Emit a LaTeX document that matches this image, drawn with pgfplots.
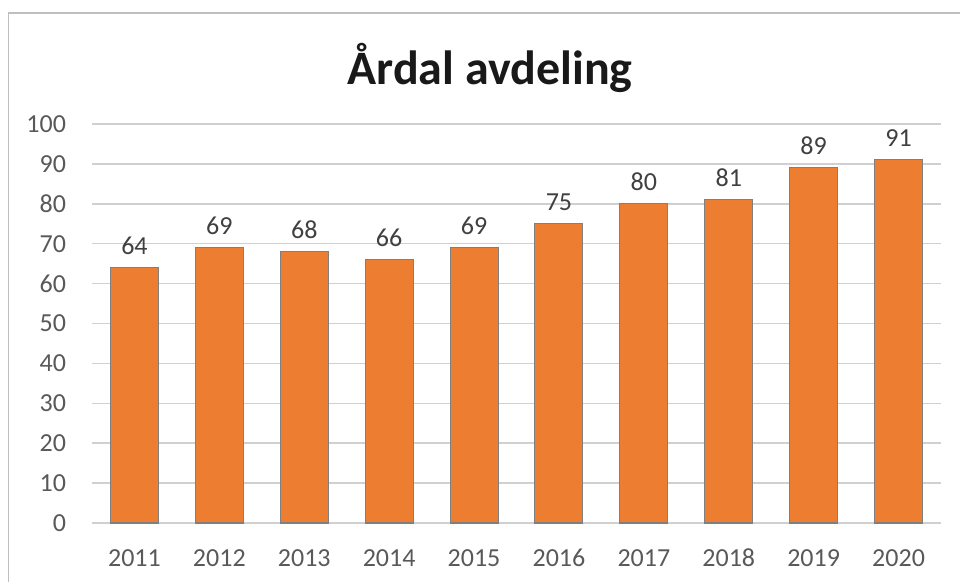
\documentclass[border=0pt]{standalone}
\usepackage{fontspec}
\setmainfont{Carlito}
\usepackage{pgfplots}
\pgfplotsset{compat=1.18}
\definecolor{barfill}{HTML}{ED7D31}
\definecolor{baredge}{HTML}{7F7F7F}
\definecolor{gridc}{HTML}{D0D0D0}
\definecolor{framec}{HTML}{BFBFBF}
\definecolor{labc}{HTML}{595959}
\definecolor{valc}{HTML}{404040}
\begin{document}
\begin{tikzpicture}
\useasboundingbox (0,0) rectangle (720pt,436.5pt);
\draw[color=framec, line width=1.1pt] (6.4pt,0) -- (6.4pt,426.75pt) -- (720pt,426.75pt);
\node[font=\fontsize{36}{40}\selectfont\bfseries, text=black!90] at (367.5pt,385.5pt) {Årdal avdeling};
\begin{axis}[
  at={(69pt,44.25pt)}, anchor=south west,
  scale only axis, width=636.75pt, height=299.25pt,
  xmin=-0.5, xmax=9.5, ymin=0, ymax=100,
  ybar, bar width=36pt,
  axis line style={draw=none},
  major tick length=0pt,
  ytick={0,10,...,100},
  xtick={0,...,9},
  xticklabels={2011,2012,2013,2014,2015,2016,2017,2018,2019,2020},
  ymajorgrids, grid style={color=gridc, line width=1.1pt},
  /pgf/number format/assume math mode=true,
  tick label style={font=\fontsize{19.5}{22}\selectfont, text=labc},
  yticklabel style={xshift=-16pt},
  xticklabel style={text height=14pt, text depth=0pt, yshift=-15pt},
  nodes near coords,
  every node near coord/.append style={font=\fontsize{19.5}{22}\selectfont, text=valc, yshift=6pt},
]
\addplot[fill=barfill, draw=baredge, line width=0.8pt] coordinates {
(0,64) (1,69) (2,68) (3,66) (4,69) (5,75) (6,80) (7,81) (8,89) (9,91)
};
\end{axis}
\end{tikzpicture}
\end{document}
